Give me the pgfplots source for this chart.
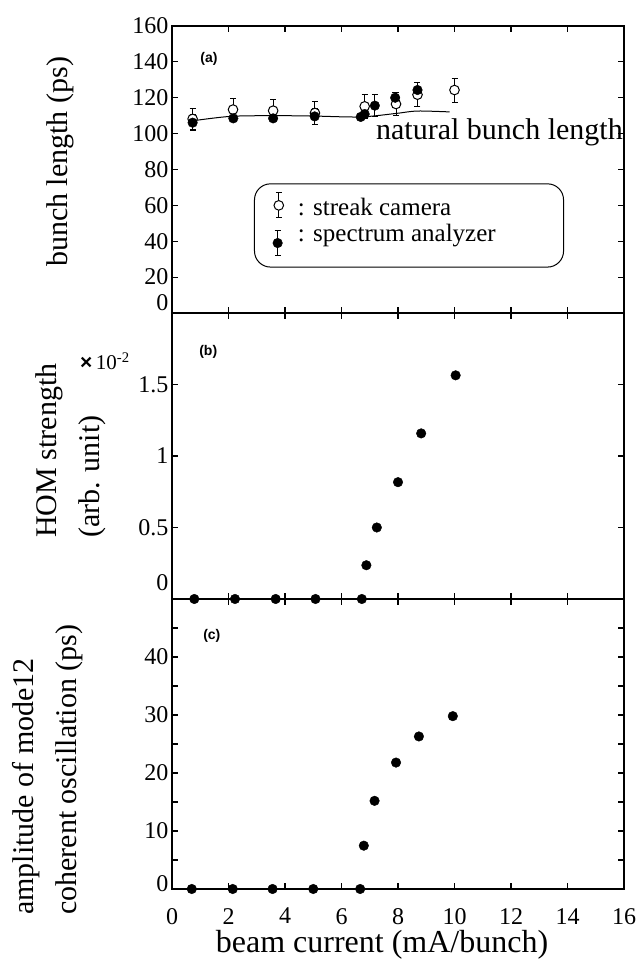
\documentclass[border=0pt]{standalone}
\usepackage{pgfplots}
\pgfplotsset{compat=1.18}
\usepackage{fontspec}
\setmainfont{Liberation Serif}
\setsansfont{Liberation Sans}
\newcommand{\lab}{\fontsize{30}{43}\selectfont}
\newcommand{\tk}{\fontsize{24}{26}\selectfont}
\newcommand{\leg}{\fontsize{25}{28}\selectfont}

\pgfplotsset{
 panel/.style={
  scale only axis, width=452pt, xmin=0, xmax=16, xtick={0,2,...,16},
  tick align=inside, major tick length=6pt, minor tick length=6pt,
  axis line style={line width=1.4pt},
  every tick/.style={black, line width=1.1pt},
  tick label style={font=\tk},
  /pgf/number format/assume math mode=true,
  clip=false, anchor=south west,
 },
 filled/.style={only marks, mark=*, mark size=4.8pt, black},
}

\begin{document}
\begin{tikzpicture}
\path[use as bounding box] (0pt,0pt) rectangle (636pt,964pt);

% ---------------- panel (a)
\begin{axis}[panel, at={(172pt,651pt)}, height=287pt,
  ymin=0, ymax=160, ytick={20,40,...,160},
  extra y ticks={0}, extra y tick style={yticklabel style={yshift=10pt}},
  xticklabels={}]
 % natural bunch length
 \addplot[smooth, black, line width=1pt] coordinates {
  (0.62,106.9) (2.06,109.6) (3.64,110.0) (5.0,109.8) (6.67,109.3)
  (7.96,111.3) (8.68,112.6) (9.83,112.1)};
 % streak camera (open)
 \addplot[only marks, mark=*, mark size=4.8pt,
   mark options={fill=white, draw=black, line width=1pt},
   error bars/.cd, y dir=both, y explicit,
   error bar style={line width=1pt, black},
   error mark options={rotate=90, mark size=3pt, line width=1pt, black}]
  coordinates {
  (0.73,108.2) +- (0,6)
  (2.16,113.4) +- (0,6.2)
  (3.58,112.8) +- (0,6.2)
  (5.06,111.5) +- (0,6.2)
  (6.82,115.2) +- (0,6.5)
  (7.93,116.5) +- (0,6.5)
  (8.69,121.7) +- (0,6.7)
  (10.0,124.3) +- (0,6.7)};
 % spectrum analyzer (filled)
 \addplot[filled,
   error bars/.cd, y dir=both, y explicit,
   error bar style={line width=1pt, black},
   error mark options={rotate=90, mark size=3pt, line width=1pt, black}]
  coordinates {
  (0.73,106.1) +- (0,4.5)
  (2.17,108.5) +- (0,1.5)
  (3.58,108.5) +- (0,1.5)
  (5.05,109.6) +- (0,4.5)
  (6.68,109.3) +- (0,1.5)
  (6.82,110.9) +- (0,2)
  (7.18,115.6) +- (0,6.3)
  (7.90,120.0) +- (0,3)
  (8.69,124.3) +- (0,4)};
 % legend box
 \draw[line width=1pt, rounded corners=16pt] (axis cs:2.92,72) rectangle (axis cs:13.86,25.6);
 \addplot[only marks, mark=*, mark size=4.8pt,
   mark options={fill=white, draw=black, line width=1pt},
   error bars/.cd, y dir=both, y explicit,
   error bar style={line width=1pt, black},
   error mark options={rotate=90, mark size=3pt, line width=1pt, black}]
  coordinates {(3.78,60) +- (0,7)};
 \addplot[filled,
   error bars/.cd, y dir=both, y explicit,
   error bar style={line width=1pt, black},
   error mark options={rotate=90, mark size=3pt, line width=1pt, black}]
  coordinates {(3.74,39) +- (0,7)};
 \node[anchor=west, font=\leg, inner sep=0pt] at (axis cs:4.45,59) {: streak camera};
 \node[anchor=west, font=\leg, inner sep=0pt] at (axis cs:4.45,43) {: spectrum analyzer};
 \node[anchor=west, font=\lab, inner sep=0pt] at (axis cs:7.22,100.7) {natural bunch length};
 \node[anchor=west, font=\fontsize{14}{16}\selectfont\sffamily\bfseries, inner sep=0pt] at (axis cs:1.0,141.5) {(a)};
\end{axis}

% ---------------- panel (b)
\begin{axis}[panel, at={(172pt,365pt)}, height=286pt,
  ymin=0, ymax=2, ytick={0.5,1,1.5},
  extra y ticks={0}, extra y tick style={yticklabel style={yshift=16pt}},
  xticklabels={}]
 \addplot[filled] coordinates {
  (0.79,0) (2.23,0) (3.67,0) (5.08,0) (6.72,0)
  (6.88,0.236) (7.25,0.50) (8.0,0.817) (8.82,1.158) (10.04,1.564)};
 \node[anchor=west, font=\fontsize{14}{16}\selectfont\sffamily\bfseries, inner sep=0pt] at (axis cs:0.96,1.73) {(b)};
\end{axis}

% ---------------- panel (c)
\begin{axis}[panel, at={(172pt,75pt)}, height=290pt,
  ymin=0, ymax=50, ytick={10,20,...,40}, minor ytick={5,15,...,45},
  extra y ticks={0}, extra y tick style={yticklabel style={yshift=5pt}},
  xticklabel style={inner sep=0pt, yshift=-19pt}]
 \addplot[filled] coordinates {
  (0.70,0) (2.15,0) (3.56,0) (5.0,0) (6.66,0)
  (6.79,7.47) (7.17,15.2) (7.93,21.8) (8.74,26.3) (9.94,29.8)};
 \node[anchor=west, font=\fontsize{14}{16}\selectfont\sffamily\bfseries, inner sep=0pt] at (axis cs:1.1,43.6) {(c)};
\end{axis}

% ---------------- labels
\node[rotate=90, font=\lab, inner sep=0pt] at (60pt,802pt) {bunch length (ps)};
\node[rotate=90, font=\lab, inner sep=0pt, anchor=north west, align=left] at (35pt,426pt) {HOM strength\\(arb. unit)};
\node[anchor=base west, inner sep=0pt, font=\fontsize{21}{24}\selectfont] at (80pt,594pt) {{\sffamily\bfseries ×}\,10\textsuperscript{-2}};
\node[rotate=90, font=\lab, inner sep=0pt, anchor=north west, align=left] at (12pt,49pt) {amplitude of mode12\\coherent oscillation (ps)};
\node[anchor=base, font=\fontsize{32}{36}\selectfont, inner sep=0pt] at (382pt,11pt) {beam current (mA/bunch)};
\end{tikzpicture}
\end{document}
